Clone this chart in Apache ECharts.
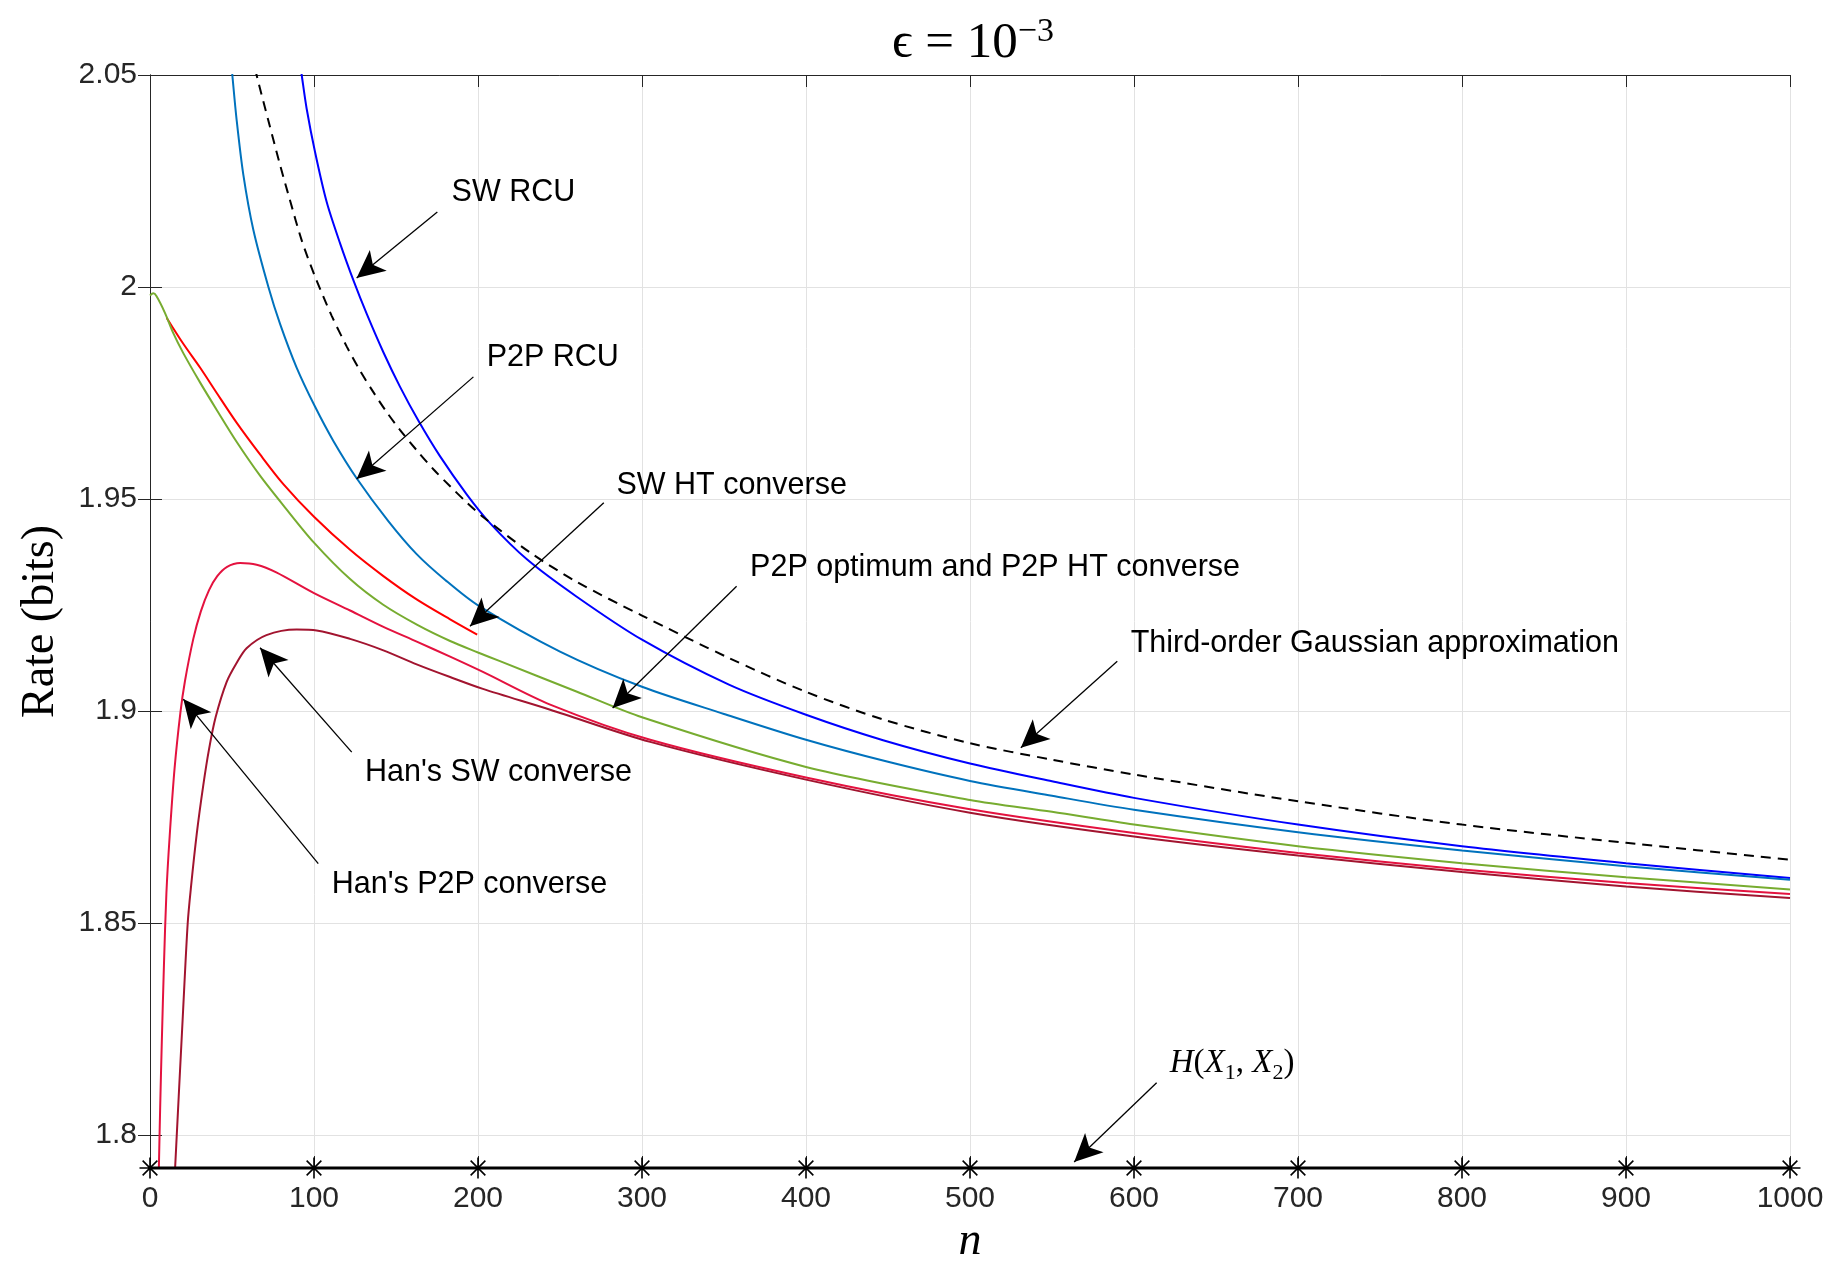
<!DOCTYPE html>
<html>
<head>
<meta charset="utf-8">
<script src="https://cdn.jsdelivr.net/npm/echarts@6/dist/echarts.min.js"></script>
<style>
  html, body { margin: 0; padding: 0; background: #fff; }
  #chart { width: 1846px; height: 1286px; }
</style>
</head>
<body>
<div id="chart"></div>
<script>
// values (epsilon = 1e-3)
var xTicks = [0, 100, 200, 300, 400, 500, 600, 700, 800, 900, 1000];
var yTicks = [1.8, 1.85, 1.9, 1.95, 2.0, 2.05];
var yMin = 1.7922, yMax = 2.05;

// SW RCU
var swRcuN    = [88, 92.5, 95.5, 100.6, 107.7, 115.9, 124.4, 132.1, 142.3, 152.4, 163.6, 176.8, 193.1, 207.3, 230, 260, 300, 353, 400, 447, 500, 550, 600, 700, 800, 900, 1000];
var swRcuRate = [2.062, 2.05, 2.0421, 2.0319, 2.0201, 2.0103, 2.0012, 1.9937, 1.9846, 1.9765, 1.9685, 1.9601, 1.9511, 1.9443, 1.9357, 1.927, 1.9168, 1.9062, 1.8991, 1.8931, 1.8876, 1.8834, 1.8795, 1.8732, 1.8681, 1.8641, 1.8606];

// P2P RCU
var p2pRcuN    = [47, 50.2, 52.8, 56.9, 63, 72.2, 79.3, 89.4, 100.6, 111.8, 126, 145.3, 162.6, 180, 200, 250, 300, 350, 400, 450, 500, 550, 600, 700, 800, 900, 1000];
var p2pRcuRate = [2.0635, 2.05, 2.0395, 2.0265, 2.0135, 2.0, 1.9913, 1.981, 1.9718, 1.9637, 1.9549, 1.9448, 1.937, 1.9309, 1.9249, 1.914, 1.9057, 1.8993, 1.8932, 1.888, 1.8835, 1.88, 1.8767, 1.8714, 1.8671, 1.8634, 1.8602];

// Third-order Gaussian approximation
var gaussN    = [62, 65, 72.2, 79.3, 85.4, 92.5, 100.6, 110.8, 119.9, 128, 136.2, 144.3, 152.4, 162.6, 172.8, 183, 193.1, 203.3, 232, 260, 300, 353, 400, 447, 500, 550, 600, 700, 800, 900, 1000];
var gaussRate = [2.0555, 2.05, 2.0392, 2.0288, 2.0204, 2.011, 2.0025, 1.9932, 1.986, 1.9803, 1.9752, 1.9705, 1.9663, 1.9615, 1.957, 1.953, 1.9492, 1.9457, 1.9373, 1.9305, 1.9225, 1.9125, 1.9045, 1.898, 1.8924, 1.8885, 1.885, 1.8787, 1.8732, 1.8689, 1.8649];

// SW HT converse
var swHtN    = [10.2, 20.3, 30.5, 40.7, 52.8, 67.1, 81.3, 100, 122, 142.3, 162.6, 183, 199.5];
var swHtRate = [1.9927, 1.9866, 1.981, 1.975, 1.968, 1.9605, 1.9535, 1.9458, 1.938, 1.9318, 1.9263, 1.9216, 1.918];

// P2P optimum and P2P HT converse
var p2pOptN    = [0, 2, 4, 9.1, 14.2, 20.3, 30.5, 40.7, 52.8, 67.1, 81.3, 100, 122, 142, 163, 183, 200, 213, 260, 300, 400, 500, 550, 600, 700, 800, 900, 1000];
var p2pOptRate = [1.998, 1.9985, 1.9978, 1.9939, 1.9891, 1.9844, 1.9775, 1.971, 1.9635, 1.9555, 1.9485, 1.9397, 1.9311, 1.9251, 1.9203, 1.9165, 1.9138, 1.9118, 1.9046, 1.8985, 1.8868, 1.879, 1.8762, 1.8732, 1.8681, 1.8641, 1.8608, 1.8579];

// Han's P2P converse
var hanP2pN    = [4.6, 5.4, 6.2, 7.2, 8.5, 10, 12, 15, 18.5, 21.3, 26.4, 31, 36, 41, 47, 55, 65, 77, 100, 122, 142, 163, 183, 203, 244, 305, 400, 500, 600, 700, 800, 900, 1000];
var hanP2pRate = [1.775, 1.792, 1.8065, 1.822, 1.84, 1.857, 1.8705, 1.8865, 1.8995, 1.907, 1.917, 1.9235, 1.9285, 1.9318, 1.934, 1.9349, 1.9345, 1.9327, 1.9278, 1.9237, 1.9199, 1.9163, 1.9128, 1.9092, 1.9015, 1.8932, 1.8843, 1.8768, 1.8712, 1.8665, 1.8626, 1.8594, 1.8568];

// Han's SW converse
var hanSwN    = [14.5, 16, 17.5, 20, 23, 25, 28.5, 32.5, 36, 40, 46.7, 52.8, 58.9, 71, 89.4, 101.6, 122, 142.3, 162.6, 183, 203, 244, 305, 400, 500, 600, 700, 800, 900, 1000];
var hanSwRate = [1.786, 1.7975, 1.809, 1.828, 1.85, 1.8585, 1.871, 1.8825, 1.891, 1.8985, 1.9068, 1.9113, 1.9148, 1.9179, 1.9192, 1.919, 1.917, 1.9143, 1.911, 1.908, 1.9052, 1.9003, 1.8927, 1.8838, 1.876, 1.8704, 1.8659, 1.862, 1.8586, 1.8559];

// H(X1,X2)
var entropyN    = [0, 100, 200, 300, 400, 500, 600, 700, 800, 900, 1000];
var entropyRate = [1.7922, 1.7922, 1.7922, 1.7922, 1.7922, 1.7922, 1.7922, 1.7922, 1.7922, 1.7922, 1.7922];

// annotations (data coordinates)
var noteText = ['SW RCU', 'P2P RCU', 'SW HT converse', 'P2P optimum and P2P HT converse', 'Third-order Gaussian approximation', "Han's SW converse", "Han's P2P converse"];
var noteAt   = [[183.9, 2.0222], [205.3, 1.9833], [284.4, 1.9531], [365.9, 1.9337], [598, 1.9158], [131.1, 1.8854], [110.8, 1.859]];
var arrowFrom = [[175.2, 2.0177], [197.2, 1.9788], [276.7, 1.9491], [357.7, 1.9294], [589.8, 1.9117], [123, 1.8903], [102.6, 1.864], [613.8, 1.8123]];
var arrowTo   = [[126, 2.0021], [126, 1.9547], [195.1, 1.92], [282.1, 1.9007], [531, 1.8913], [67.1, 1.9149], [20.3, 1.9028], [563.5, 1.7936]];
var entropyLabelAt = [621.8, 1.817];

function pairs(xs, ys) {
  return xs.map(function (x, i) { return [x, ys[i]]; });
}

var chart = echarts.init(document.getElementById('chart'), null, { renderer: 'canvas' });

var axisColor = '#262626';
var gridColor = '#e2e2e2';
var sans = 'Liberation Sans';
var serif = 'Liberation Serif';

function curve(name, xs, ys, color, dashed) {
  return {
    name: name,
    type: 'line',
    data: pairs(xs, ys),
    showSymbol: false,
    smooth: 0.3,
    clip: true,
    lineStyle: { color: color, width: 2, type: dashed ? [10, 7] : 'solid' },
    itemStyle: { color: color },
    silent: true
  };
}

var option = {
  animation: false,
  backgroundColor: '#ffffff',
  title: {
    text: '{a|ϵ = 10}{b|−3}',
    left: 968,
    textAlign: 'center',
    top: 10,
    textStyle: {
      fontWeight: 'normal',
      rich: {
        a: { fontFamily: serif, fontSize: 51, fontWeight: 'normal', color: '#000', lineHeight: 58 },
        b: { fontFamily: serif, fontSize: 34, fontWeight: 'normal', color: '#000', verticalAlign: 'top', lineHeight: 58 }
      }
    }
  },
  grid: { left: 150, right: 56, top: 75, bottom: 118, containLabel: false },
  xAxis: [{
    type: 'value', min: 0, max: 1000, interval: 100, position: 'bottom',
    name: 'n', nameLocation: 'middle', nameGap: 48,
    nameTextStyle: { fontFamily: serif, fontStyle: 'italic', fontSize: 46, color: '#000' },
    axisLine: { show: true, lineStyle: { color: axisColor, width: 1 } },
    axisTick: { show: true, inside: true, length: 12, lineStyle: { color: axisColor } },
    axisLabel: { fontFamily: sans, fontSize: 30, color: axisColor, margin: 16,
      formatter: function (v) { return String(v); } },
    splitLine: { show: true, lineStyle: { color: gridColor, width: 1 } }
  }, {
    type: 'value', min: 0, max: 1000, interval: 100, position: 'top',
    axisLine: { show: true, lineStyle: { color: axisColor, width: 1 } },
    axisTick: { show: true, inside: true, length: 12, lineStyle: { color: axisColor } },
    axisLabel: { show: false },
    splitLine: { show: false }
  }],
  yAxis: [{
    type: 'value', min: yMin, max: yMax, position: 'left',
    name: 'Rate (bits)', nameLocation: 'middle', nameGap: 86, nameRotate: 90,
    nameTextStyle: { fontFamily: serif, fontSize: 46, color: '#000' },
    axisLine: { show: true, lineStyle: { color: axisColor, width: 1 } },
    axisTick: { show: true, inside: true, length: 12, customValues: yTicks, lineStyle: { color: axisColor } },
    axisLabel: { fontFamily: sans, fontSize: 30, color: axisColor, margin: 13, customValues: yTicks,
      formatter: function (v) { return String(Math.round(v * 100) / 100); } },
    splitLine: { show: true, lineStyle: { color: gridColor, width: 1 } }
  }, {
    type: 'value', min: yMin, max: yMax, position: 'right',
    axisLine: { show: true, lineStyle: { color: axisColor, width: 1 } },
    axisTick: { show: true, inside: true, length: 12, customValues: yTicks, lineStyle: { color: axisColor } },
    axisLabel: { show: false, customValues: yTicks },
    splitLine: { show: false }
  }],
  series: [
    curve('SW RCU', swRcuN, swRcuRate, '#0000ff'),
    curve('P2P RCU', p2pRcuN, p2pRcuRate, '#0072bd'),
    curve('Third-order Gaussian approximation', gaussN, gaussRate, '#000000', true),
    curve('SW HT converse', swHtN, swHtRate, '#ff0000'),
    curve('P2P optimum and P2P HT converse', p2pOptN, p2pOptRate, '#77ac30'),
    curve("Han's P2P converse", hanP2pN, hanP2pRate, '#e4123f'),
    curve("Han's SW converse", hanSwN, hanSwRate, '#a2142f'),
    {
      name: 'H(X1,X2)',
      type: 'line',
      data: pairs(entropyN, entropyRate),
      showSymbol: true,
      symbol: 'path://M0,-1L0,1M-1,0L1,0M-0.7,-0.7L0.7,0.7M-0.7,0.7L0.7,-0.7',
      symbolSize: 21,
      clip: false,
      lineStyle: { color: '#000', width: 3 },
      itemStyle: { color: 'none', borderColor: '#000', borderWidth: 1.6 },
      silent: true,
      z: 5
    },
    {
      name: 'notes',
      type: 'line',
      data: [],
      silent: true,
      markLine: {
        silent: true,
        symbol: ['none', 'arrow'],
        symbolSize: [20, 28],
        label: { show: false },
        lineStyle: { color: '#000', width: 1.3, type: 'solid' },
        data: arrowFrom.map(function (p, i) {
          return [{ coord: p }, { coord: arrowTo[i] }];
        })
      },
      markPoint: {
        silent: true,
        symbol: 'circle',
        symbolSize: 0,
        label: {
          show: true, position: 'right', distance: 0,
          fontFamily: sans, fontSize: 30.5, color: '#000'
        },
        data: noteText.map(function (t, i) {
          return { coord: noteAt[i], value: t, label: { formatter: t } };
        }).concat([{
          coord: entropyLabelAt, value: 'H',
          label: {
            formatter: '{i|H}{r|(}{i|X}{s|1}{r|, }{i|X}{s|2}{r|)}',
            rich: {
              i: { fontFamily: serif, fontStyle: 'italic', fontSize: 33, color: '#000', lineHeight: 42 },
              r: { fontFamily: serif, fontSize: 33, color: '#000', lineHeight: 42 },
              s: { fontFamily: serif, fontSize: 22, color: '#000', lineHeight: 42, verticalAlign: 'bottom' }
            }
          }
        }])
      }
    }
  ]
};

chart.setOption(option);
</script>
</body>
</html>
